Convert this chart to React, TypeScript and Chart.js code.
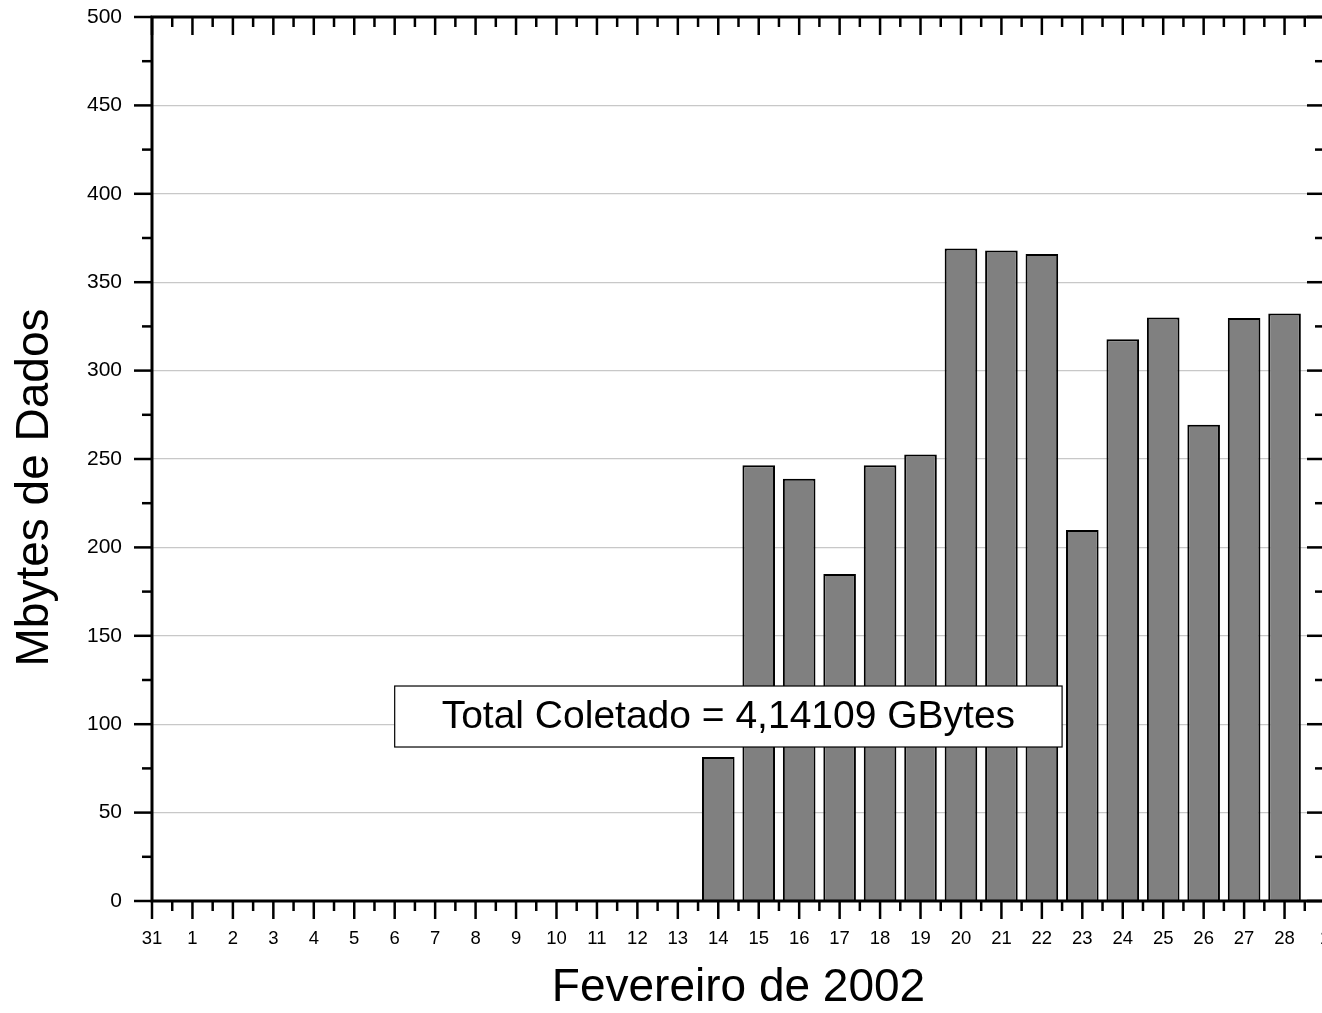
import React, { useEffect, useRef } from 'react';
import { Chart, registerables } from 'chart.js';

Chart.register(...registerables);

// ---- data ----
const dayLabels: string[] = [
  '31', '1', '2', '3', '4', '5', '6', '7', '8', '9', '10', '11', '12', '13', '14',
  '15', '16', '17', '18', '19', '20', '21', '22', '23', '24', '25', '26', '27', '28', '1',
];
const barDays: number[] = [14, 15, 16, 17, 18, 19, 20, 21, 22, 23, 24, 25, 26, 27, 28];
const mbytes: number[] = [81.5, 246.4, 238.8, 185, 246.4, 252.6, 369, 368, 366, 209.8, 317.7, 330, 269.4, 329.8, 332.3];
const yMajorStep = 50;
const yMinorStep = 25;
const yMin = 0;
const yMax = 500;
const xMin = 0;
const xMax = 29;
const xTitle = 'Fevereiro de 2002';
const yTitle = 'Mbytes de Dados';
const annotationText = 'Total Coletado = 4,14109 GBytes';
const annotationBox = { xMin: 6.0, xMax: 22.5, yMin: 87.1, yMax: 121.6 };

const FONT = '"Liberation Sans", Arial, Helvetica, sans-serif';
const CANVAS_W = 1380;
const CANVAS_H = 1013;

const originFrame = {
  id: 'originFrame',
  afterDatasetsDraw(chart: any) {
    const { ctx, chartArea: a, scales } = chart;
    const x = scales.x;
    const y = scales.y;
    ctx.save();
    ctx.strokeStyle = '#000';
    ctx.lineCap = 'butt';
    const seg = (x1: number, y1: number, x2: number, y2: number) => {
      ctx.beginPath();
      ctx.moveTo(x1, y1);
      ctx.lineTo(x2, y2);
      ctx.stroke();
    };
    ctx.lineWidth = 2.5;
    for (let v = xMin; v <= xMax + 1e-9; v += 0.5) {
      const px = x.getPixelForValue(v);
      const major = Math.abs(v - Math.round(v)) < 1e-9;
      const len = major ? 18 : 10;
      seg(px, a.bottom, px, a.bottom + len);
      seg(px, a.top, px, a.top + len);
    }
    for (let v = yMin; v <= yMax + 1e-9; v += yMinorStep) {
      const py = y.getPixelForValue(v);
      const major = v % yMajorStep === 0;
      const len = major ? 18 : 10;
      seg(a.left - len, py, a.left, py);
      seg(a.right - len, py, a.right, py);
    }
    ctx.lineWidth = 3;
    ctx.strokeRect(a.left, a.top, a.right - a.left, a.bottom - a.top);

    // annotation box
    const bx1 = x.getPixelForValue(annotationBox.xMin);
    const bx2 = x.getPixelForValue(annotationBox.xMax);
    const by1 = y.getPixelForValue(annotationBox.yMax);
    const by2 = y.getPixelForValue(annotationBox.yMin);
    ctx.fillStyle = '#fff';
    ctx.fillRect(bx1, by1, bx2 - bx1, by2 - by1);
    ctx.lineWidth = 1.2;
    ctx.strokeRect(bx1, by1, bx2 - bx1, by2 - by1);
    ctx.fillStyle = '#000';
    ctx.font = `39px ${FONT}`;
    ctx.textAlign = 'center';
    ctx.textBaseline = 'middle';
    ctx.fillText(annotationText, (bx1 + bx2) / 2, (by1 + by2) / 2 + 1);

    // y title
    ctx.save();
    ctx.translate(35.6, 487.5);
    ctx.rotate(-Math.PI / 2);
    ctx.font = `46px ${FONT}`;
    ctx.textAlign = 'center';
    ctx.textBaseline = 'middle';
    ctx.fillText(yTitle, 0, 0);
    ctx.restore();
    ctx.restore();
  },
};

export default function App() {
  const ref = useRef<HTMLCanvasElement | null>(null);
  useEffect(() => {
    if (!ref.current) return;
    Chart.defaults.font.family = FONT;
    Chart.defaults.color = '#000';
    const chart = new Chart(ref.current, {
      type: 'bar',
      data: {
        datasets: [
          {
            data: barDays.map((d, i) => ({ x: d, y: mbytes[i] })),
            backgroundColor: '#808080',
            borderColor: '#000',
            borderWidth: 2,
            barPercentage: 0.806,
            categoryPercentage: 1,
          },
        ],
      },
      options: {
        animation: false,
        responsive: false,
        devicePixelRatio: 1,
        layout: { padding: { left: 0, top: 17, right: CANVAS_W - 1325, bottom: 0 } },
        plugins: { legend: { display: false }, tooltip: { enabled: false } },
        scales: {
          x: {
            type: 'linear',
            min: xMin,
            max: xMax,
            offset: false,
            grid: { display: false, offset: false, drawTicks: false },
            border: { display: false },
            ticks: {
              stepSize: 1,
              autoSkip: false,
              maxRotation: 0,
              minRotation: 0,
              padding: 27,
              font: { size: 18.5 },
              color: '#000',
              callback: (v: any) => {
                const i = Math.round(Number(v));
                return Math.abs(Number(v) - i) < 1e-9 ? dayLabels[i] ?? '' : '';
              },
            },
            title: {
              display: true,
              text: xTitle,
              font: { size: 46, lineHeight: 1 },
              padding: { top: 0, bottom: 2 },
              color: '#000',
            },
            afterFit: (s: any) => {
              s.height = 112;
              s.paddingLeft = 0;
              s.paddingRight = 0;
            },
          },
          y: {
            type: 'linear',
            min: yMin,
            max: yMax,
            grid: {
              drawTicks: false,
              lineWidth: 1.2,
              color: (c: any) => {
                const v = c.tick ? c.tick.value : 0;
                return v > yMin && v < yMax ? '#c8c8c8' : 'rgba(0,0,0,0)';
              },
            },
            border: { display: false },
            ticks: {
              stepSize: yMajorStep,
              padding: 30,
              font: { size: 21 },
              color: '#000',
            },
            afterFit: (s: any) => {
              s.width = 152;
              s.paddingTop = 0;
              s.paddingBottom = 0;
            },
          },
        },
      },
      plugins: [originFrame],
    } as any);
    return () => chart.destroy();
  }, []);
  return (
    <div
      style={{
        position: 'fixed',
        left: 0,
        top: 0,
        width: 1322,
        height: 1013,
        overflow: 'hidden',
        background: '#fff',
      }}
    >
      <canvas ref={ref} width={CANVAS_W} height={CANVAS_H} style={{ display: 'block' }} />
    </div>
  );
}
